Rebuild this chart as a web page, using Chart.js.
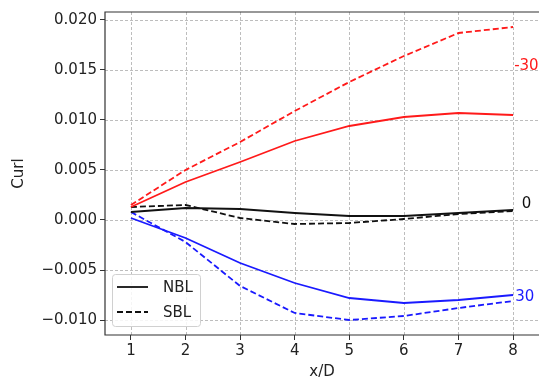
<!DOCTYPE html>
<html>
<head>
<meta charset="utf-8">
<script src="https://cdn.jsdelivr.net/npm/chart.js@4/dist/chart.umd.min.js"></script>
<style>
html,body{margin:0;padding:0;background:#fff;}
#wrap{width:539px;height:381px;position:relative;}
</style>
</head>
<body>
<div id="wrap"><canvas id="c" width="539" height="381"></canvas></div>
<script>
// ---- data ----
const xValues = [1, 2, 3, 4, 5, 6, 7, 8];
const nblMinus30 = [0.0013, 0.0038, 0.0058, 0.0079, 0.0094, 0.0103, 0.0107, 0.0105];
const sblMinus30 = [0.0015, 0.0050, 0.0078, 0.0109, 0.0138, 0.0164, 0.0187, 0.0193];
const nbl0 = [0.0008, 0.0012, 0.0011, 0.0007, 0.0004, 0.0004, 0.0007, 0.0010];
const sbl0 = [0.0013, 0.0015, 0.0002, -0.0004, -0.0003, 0.0001, 0.0006, 0.0009];
const nbl30 = [0.0002, -0.0018, -0.0043, -0.0063, -0.0078, -0.0083, -0.0080, -0.0075];
const sbl30 = [0.0008, -0.0022, -0.0066, -0.0093, -0.0100, -0.0096, -0.0088, -0.0081];
const yTickValues = [-0.010, -0.005, 0.000, 0.005, 0.010, 0.015, 0.020];
const angleLabels = ['-30', '0', '30'];
const angleLabelX = [8.02, 8.16, 8.04];
const angleLabelY = [0.0154, 0.0016, -0.0077];
const legendLabels = ['NBL', 'SBL'];

const RED = '#ff1a1a', BLUE = '#1a1aff', BLACK = '#111111';
const angleColors = [RED, BLACK, BLUE];
const DASH = [6, 3];
const FONT = "'DejaVu Sans', sans-serif";

function pts(ys) { return xValues.map((x, i) => ({x: x, y: ys[i]})); }
function ds(label, ys, color, dashed) {
  return {label: label, data: pts(ys), borderColor: color, backgroundColor: color,
    borderWidth: 1.8, borderDash: dashed ? DASH : [], pointRadius: 0, tension: 0, fill: false};
}

const frame = {
  id: 'frame',
  beforeDatasetsDraw(chart) {
    const {ctx, chartArea: a, scales} = chart;
    ctx.save();
    ctx.strokeStyle = '#b5b5b5';
    ctx.lineWidth = 0.9;
    ctx.setLineDash([3, 2]);
    scales.x.ticks.forEach(t => {
      const px = Math.round(scales.x.getPixelForValue(t.value)) + 0.5;
      ctx.beginPath(); ctx.moveTo(px, a.top); ctx.lineTo(px, a.bottom); ctx.stroke();
    });
    scales.y.ticks.forEach(t => {
      const py = Math.round(scales.y.getPixelForValue(t.value)) + 0.5;
      ctx.beginPath(); ctx.moveTo(a.left, py); ctx.lineTo(a.right, py); ctx.stroke();
    });
    ctx.restore();
  },
  afterDraw(chart) {
    const {ctx, chartArea: a, scales} = chart;
    ctx.save();
    ctx.strokeStyle = '#333';
    ctx.lineWidth = 1.2;
    ctx.beginPath();
    ctx.moveTo(a.right + 5, a.top); ctx.lineTo(a.left, a.top);
    ctx.lineTo(a.left, a.bottom); ctx.lineTo(a.right + 5, a.bottom);
    ctx.stroke();
    // angle labels
    ctx.font = '15px ' + FONT;
    ctx.textBaseline = 'middle';
    ctx.textAlign = 'left';
    angleLabels.forEach((t, i) => {
      ctx.fillStyle = angleColors[i];
      ctx.fillText(t, scales.x.getPixelForValue(angleLabelX[i]), scales.y.getPixelForValue(angleLabelY[i]));
    });
    // legend box
    const bx = a.left + 7, by = a.bottom - 61, bw = 88, bh = 52;
    ctx.fillStyle = 'rgba(255,255,255,0.85)';
    ctx.strokeStyle = '#d0d0d0';
    ctx.lineWidth = 1;
    ctx.beginPath();
    ctx.roundRect(bx + 0.5, by + 0.5, bw, bh, 3);
    ctx.fill(); ctx.stroke();
    ctx.strokeStyle = BLACK;
    ctx.lineWidth = 1.8;
    legendLabels.forEach((t, i) => {
      const ly = by + 13 + i * 25;
      ctx.setLineDash(i === 0 ? [] : DASH);
      ctx.beginPath(); ctx.moveTo(bx + 5, ly); ctx.lineTo(bx + 36, ly); ctx.stroke();
      ctx.setLineDash([]);
      ctx.fillStyle = '#222';
      ctx.fillText(t, bx + 51, ly + 1);
    });
    ctx.restore();
  }
};

new Chart(document.getElementById('c'), {
  type: 'line',
  data: {datasets: [
    ds('-30 NBL', nblMinus30, RED, false),
    ds('-30 SBL', sblMinus30, RED, true),
    ds('0 NBL', nbl0, BLACK, false),
    ds('0 SBL', sbl0, BLACK, true),
    ds('30 NBL', nbl30, BLUE, false),
    ds('30 SBL', sbl30, BLUE, true)
  ]},
  options: {
    responsive: false,
    animation: false,
    layout: {padding: {left: 10, right: 0, top: 7, bottom: 0}},
    plugins: {legend: {display: false}, tooltip: {enabled: false}},
    scales: {
      x: {
        type: 'linear', min: 0.525, max: 8.475,
        afterBuildTicks(s) { s.ticks = xValues.map(v => ({value: v})); },
        afterFit(s) { s.height = 46; },
        ticks: {font: {family: FONT, size: 15}, color: '#222', padding: 2,
          callback: v => String(v), maxRotation: 0, autoSkip: false},
        grid: {drawOnChartArea: false, tickLength: 5, tickColor: '#333', tickWidth: 1},
        border: {display: false},
        title: {display: true, text: 'x/D', font: {family: FONT, size: 15}, color: '#222', padding: {top: 0, bottom: 0}}
      },
      y: {
        type: 'linear', min: -0.0115, max: 0.0208,
        afterBuildTicks(s) { s.ticks = yTickValues.map(v => ({value: v})); },
        afterFit(s) { s.width = 95; },
        ticks: {font: {family: FONT, size: 15}, color: '#222', padding: 3,
          callback: v => { const t = Math.abs(v) < 1e-9 ? '0.000' : v.toFixed(3); return t.replace('-', '\u2212'); }},
        grid: {drawOnChartArea: false, tickLength: 5, tickColor: '#333', tickWidth: 1},
        border: {display: false},
        title: {display: true, text: 'Curl', font: {family: FONT, size: 15}, color: '#222', padding: {top: 0, bottom: 0}}
      }
    }
  },
  plugins: [frame]
});
</script>
</body>
</html>
